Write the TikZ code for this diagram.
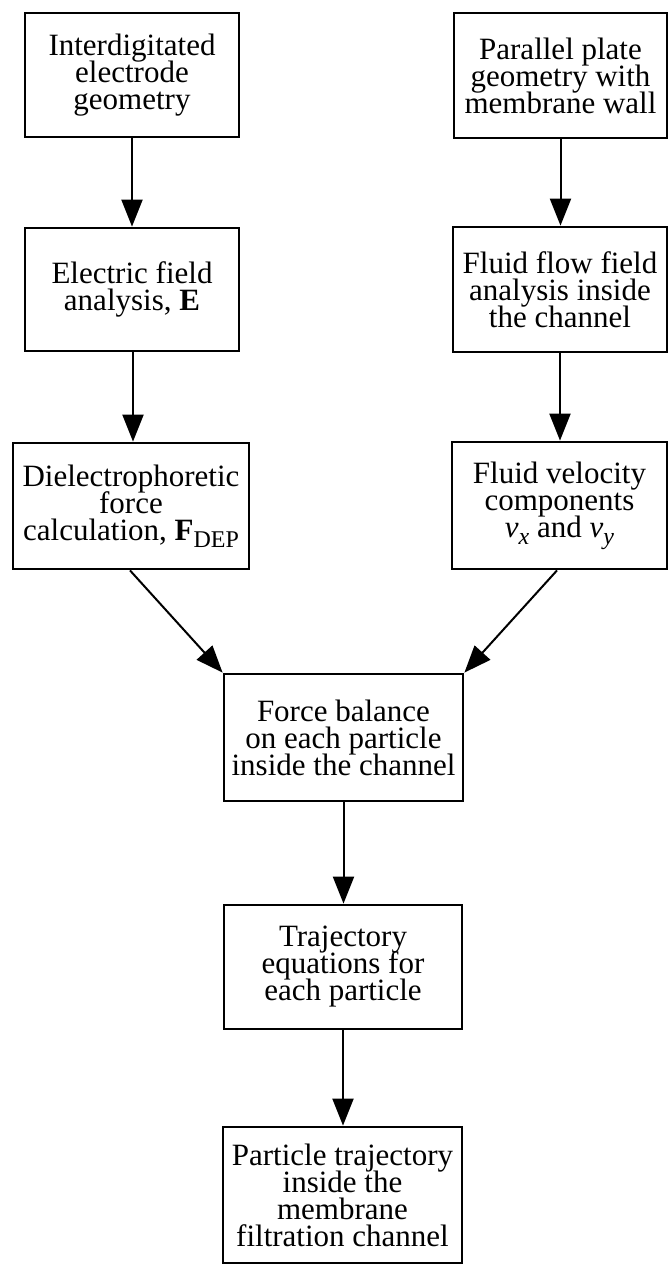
\documentclass[tikz,border=0pt]{standalone}
\usepackage{fontspec}
\setmainfont{Liberation Serif}
\usetikzlibrary{arrows.meta}
\newcommand{\boxfont}{\fontsize{31}{27}\selectfont\lineskiplimit=-50pt\lineskip=0pt}
\newcommand{\lowsub}[1]{\raisebox{-7pt}{\fontsize{24}{24}\selectfont #1}}
\tikzset{
  blk/.style={draw, line width=2.8pt, inner sep=0pt, anchor=center, align=center, font=\boxfont},
  conn/.style={line width=2pt, -{Triangle[length=27pt,width=21pt]}},
}
\begin{document}
\begin{tikzpicture}[x=1pt,y=-1pt]
\useasboundingbox (0,0) rectangle (669,1272);
\node[blk, minimum width=214pt, minimum height=124pt] (L1) at (132,75) {Interdigitated\\electrode\\geometry};
\node[blk, minimum width=213pt, minimum height=125pt] (R1) at (560.5,75.5) {Parallel plate\\geometry with\\membrane wall};
\node[blk, minimum width=214pt, minimum height=123pt] (L2) at (132,289.5) {Electric field\\analysis, \textbf{E}};
\node[blk, minimum width=214pt, minimum height=125pt] (R2) at (560,289.5) {Fluid flow field\\analysis inside\\the channel};
\node[blk, minimum width=236pt, minimum height=126pt] (L3) at (131,506) {Dielectrophoretic\\force\\calculation, \textbf{F}\lowsub{DEP}};
\node[blk, minimum width=215pt, minimum height=127pt] (R3) at (559.5,505.5) {Fluid velocity\\components\\\textit{v}\lowsub{\textit{x}} and \textit{v}\lowsub{\textit{y}}};
\node[blk, minimum width=239pt, minimum height=127pt] (F) at (343.5,737.5) {Force balance\\on each particle\\inside the channel};
\node[blk, minimum width=238pt, minimum height=124pt] (T) at (343,967) {Trajectory\\equations for\\each particle};
\node[blk, minimum width=239pt, minimum height=136pt] (P) at (342.5,1195) {Particle trajectory\\inside the\\membrane\\filtration channel};
\draw[conn] (L1.south) -- (L1.south |- L2.north);
\draw[conn] (R1.south) -- (R1.south |- R2.north);
\draw[conn] ([xshift=1pt]L2.south) -- ([xshift=1pt]L2.south |- L3.north);
\draw[conn] (R2.south) -- (R2.south |- R3.north);
\draw[conn] ([xshift=-1pt]L3.south) -- (F.north west);
\draw[conn] ([xshift=-2.5pt]R3.south) -- (F.north east);
\draw[conn] (F.south) -- (F.south |- T.north);
\draw[conn] (T.south) -- (T.south |- P.north);
\end{tikzpicture}
\end{document}
